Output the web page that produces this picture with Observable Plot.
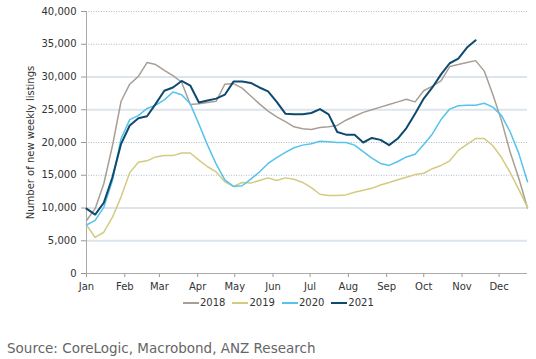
<!DOCTYPE html>
<html>
<head>
<meta charset="utf-8">
<script src="https://cdn.jsdelivr.net/npm/d3@7"></script>
<script src="https://cdn.jsdelivr.net/npm/@observablehq/plot@0.6"></script>
<style>
  html, body { margin: 0; padding: 0; background: #fff; }
  body { width: 536px; height: 359px; position: relative; font-family: "DejaVu Sans", Verdana, sans-serif; overflow: hidden; }
  #chart { position: absolute; left: 0; top: 0; }
  #legend { position: absolute; left: 183px; top: 297px; display: flex; font-size: 10px; line-height: 12px; color: #333; }
  #legend .item { display: flex; align-items: center; margin-right: 7px; }
  #legend .sw { display: inline-block; width: 16px; height: 0; border-top: 2px solid; margin-right: 1px; }
  #source { position: absolute; left: 7px; top: 340px; font-size: 13.5px; color: #666; white-space: nowrap; }
</style>
</head>
<body>
<div id="chart"></div>
<div id="legend"></div>
<div id="source">Source: CoreLogic, Macrobond, ANZ Research</div>
<script>
const years = ["2018", "2019", "2020", "2021"];
const colors = ["#a99e95", "#d4ca80", "#55c3ec", "#0d4a6e"];
const widths = [1.5, 1.5, 1.5, 2];
const monthLabels = ["Jan","Feb","Mar","Apr","May","Jun","Jul","Aug","Sep","Oct","Nov","Dec"];
const yTicks = [0, 5000, 10000, 15000, 20000, 25000, 30000, 35000, 40000];
const solidGrid = [5000, 10000, 25000, 30000];
const dottedGrid = [15000, 20000, 35000, 40000];

const v2018 = [8100, 9900, 13700, 19500, 26300, 28900, 30100, 32200, 31900, 31000,
  30200, 29200, 25800, 25900, 26100, 26300, 28900, 29000, 28300, 27100,
  25900, 24800, 23900, 23200, 22400, 22100, 22000, 22300, 22400, 22600,
  23400, 24000, 24600, 25000, 25400, 25800, 26200, 26600, 26200, 27900,
  28600, 29400, 31600, 31900, 32200, 32500, 30900, 27300, 23300, 18500,
  14500, 10000];
const v2019 = [7400, 5500, 6300, 8600, 11700, 15400, 17000, 17200, 17800, 18000,
  18000, 18400, 18400, 17300, 16300, 15500, 14000, 13300, 13900, 13800,
  14200, 14600, 14200, 14600, 14400, 13900, 13100, 12100, 11900, 11900,
  12000, 12400, 12700, 13000, 13500, 13900, 14300, 14700, 15100, 15300,
  16000, 16500, 17200, 18800, 19700, 20600, 20600, 19500, 17700, 15400,
  12800, 10100];
const v2020 = [7400, 8100, 10100, 14200, 20600, 23500, 24100, 25200, 25700, 26500,
  27700, 27300, 25900, 22800, 19600, 16700, 14300, 13300, 13400, 14400,
  15500, 16800, 17700, 18500, 19200, 19600, 19800, 20200, 20100, 20000,
  20000, 19600, 18600, 17600, 16800, 16500, 17100, 17800, 18200, 19700,
  21300, 23500, 25100, 25600, 25700, 25700, 26000, 25400, 24100, 21600,
  18300, 14000];
const v2021 = [9900, 9000, 10800, 14700, 19800, 22600, 23700, 24000, 25900, 27900,
  28400, 29400, 28700, 26100, 26400, 26700, 27300, 29300, 29300, 29100,
  28400, 27800, 26200, 24400, 24300, 24300, 24500, 25100, 24300, 21600,
  21200, 21200, 20000, 20700, 20400, 19600, 20600, 22200, 24400, 26700,
  28400, 30400, 32100, 32800, 34500, 35600];

const series = [v2018, v2019, v2020, v2021];
const weeks = d3.range(52).map(i => new Date(Date.UTC(2021, 0, 1 + 7 * i)));
const monthTicks = d3.range(12).map(m => new Date(Date.UTC(2021, m, 1)));

const rows = [];
series.forEach((arr, k) => arr.forEach((v, i) => rows.push({year: years[k], date: weeks[i], value: v})));

const lineMarks = years.map((yr, k) =>
  Plot.line(rows.filter(d => d.year === yr), {x: "date", y: "value", stroke: colors[k], strokeWidth: widths[k], strokeLinejoin: "round"})
);

const chart = Plot.plot({
  width: 536,
  height: 296,
  marginLeft: 86,
  marginRight: 9,
  marginTop: 11,
  marginBottom: 23,
  style: {fontFamily: "DejaVu Sans, Verdana, sans-serif", fontSize: "10px", color: "#333", background: "#fff"},
  x: {type: "utc", domain: [weeks[0], weeks[51]]},
  y: {domain: [0, 40000]},
  marks: [
    Plot.ruleY(solidGrid, {stroke: "#dde5ec", strokeWidth: 2}),
    Plot.ruleY(dottedGrid, {stroke: "#a9bfd0", strokeWidth: 1, strokeDasharray: "1,1.5"}),
    Plot.axisX({ticks: monthTicks, tickFormat: d => monthLabels[d.getUTCMonth()], tickSize: 4, tickPadding: 5, stroke: "#999", label: null}),
    Plot.axisY({ticks: yTicks, tickFormat: d3.format(","), tickSize: 5, tickPadding: 5, stroke: "#999", label: null}),
    Plot.ruleY([0], {stroke: "#aaa"}),
    Plot.ruleX([weeks[0]], {stroke: "#aaa"}),
    Plot.text(["Number of new weekly listings"], {frameAnchor: "left", rotate: -90, dx: -56, textAnchor: "middle", fontSize: 10, fill: "#333"}),
    ...lineMarks
  ]
});
document.getElementById("chart").appendChild(chart);

const legend = document.getElementById("legend");
years.forEach((yr, k) => {
  const item = document.createElement("div");
  item.className = "item";
  const sw = document.createElement("span");
  sw.className = "sw";
  sw.style.borderTopColor = colors[k];
  const t = document.createElement("span");
  t.textContent = yr;
  item.appendChild(sw);
  item.appendChild(t);
  legend.appendChild(item);
});
</script>
</body>
</html>
